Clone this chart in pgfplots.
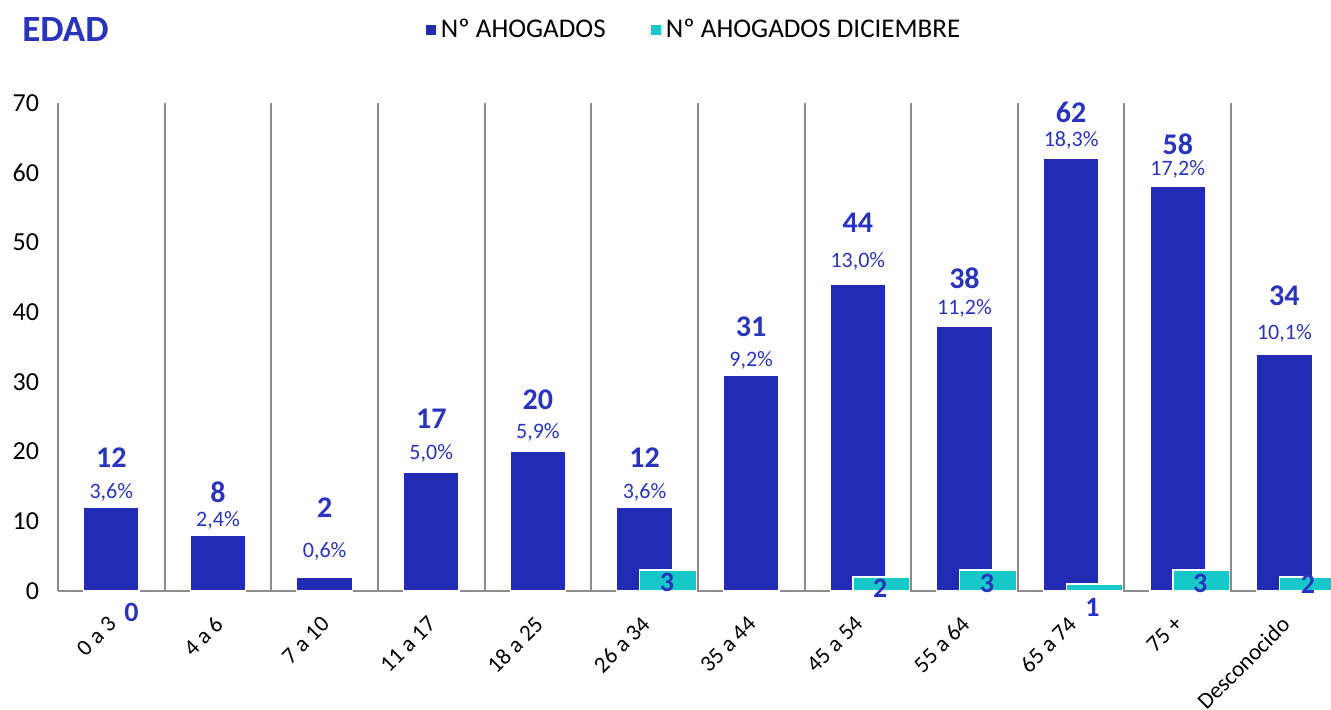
\documentclass[border=0pt]{standalone}
\usepackage{pgfplots}
\pgfplotsset{compat=1.18}
\usepackage{pgfplotstable}
\usepackage{fontspec}
\setmainfont{Carlito}
\definecolor{barblue}{RGB}{33,43,180}
\definecolor{barcyan}{RGB}{22,200,200}
\definecolor{lblblue}{RGB}{40,52,190}
\definecolor{gridgray}{RGB}{140,140,140}

\pgfplotstableread{
x y pct py cy
0 12 3.6 14.2 19.1
1 8 2.4 10.2 14.1
2 2 0.6 5.7 11.9
3 17 5.0 19.8 24.7
4 20 5.9 22.7 27.4
5 12 3.6 14.2 19.1
6 31 9.2 33.1 37.9
7 44 13.0 47.3 52.8
8 38 11.2 40.5 44.8
9 62 18.3 64.6 68.6
10 58 17.2 60.5 64.1
11 34 10.1 36.9 42.3
}\main

\pgfplotstableread{
x y lx ly
0 0 0.19 -3.0
5 3 5.21 1.3
7 2 7.21 0.4
8 3 8.21 1.15
9 1 9.2 -2.3
10 3 10.21 1.15
11 2 11.22 0.9
}\dic

\begin{document}
\begin{tikzpicture}
\useasboundingbox (0,0) rectangle (665.5pt,354.5pt);
\begin{axis}[
  at={(29pt,59pt)}, anchor=south west,
  scale only axis, width=636.5pt, height=244pt,
  xmin=-0.5, xmax=11.437, ymin=0, ymax=70,
  ytick={0,10,...,70},
  xtick={0,...,11},
  xticklabels={0 a 3, 4 a 6, 7 a 10, 11 a 17, 18 a 25, 26 a 34, 35 a 44, 45 a 54, 55 a 64, 65 a 74, 75 +, Desconocido},
  x tick label style={rotate=45, anchor=north east, inner sep=0pt, font=\fontsize{11.5}{13}\selectfont, yshift=-6.7pt, xshift=-9.9pt},
  y tick label style={font=\fontsize{13}{15}\selectfont, xshift=-6pt},
  /pgf/number format/assume math mode=true,
  major tick length=0, minor tick length=0,
  minor xtick={0.5,1.5,...,10.5},
  xminorgrids, minor grid style={gridgray, line width=1pt},
  axis x line*=bottom, axis y line*=left,
  axis line style={gridgray, line width=1pt, -},
  clip=false,
  legend style={at={(0.5,1.15)}, anchor=center, draw=none, fill=none,
    legend columns=2, font=\fontsize{13.5}{15}\selectfont,
    /tikz/every even column/.append style={column sep=20pt}},
  legend image code/.code={\fill[#1] (0pt,-2.75pt) rectangle (5.5pt,2.75pt);},
]
\addplot[ybar, bar width=0.52, bar shift=0, fill=barblue, draw=white, line width=0.6pt] table[x=x,y=y]{\main};
\addplot[ybar, bar width=0.53, bar shift=0.22, fill=barcyan, draw=white, line width=0.6pt, skip coords between index={0}{1}] table[x=x,y=y]{\dic};
\legend{Nº AHOGADOS, Nº AHOGADOS DICIEMBRE}
\addplot[draw=none, forget plot, point meta=explicit,
  nodes near coords={\pgfmathprintnumber[fixed,fixed zerofill,precision=1,use comma]{\pgfplotspointmeta}\%},
  nodes near coords style={anchor=center, inner sep=0pt, text=lblblue, font=\fontsize{11}{13}\selectfont}]
  table[x=x,y=py,meta=pct]{\main};
\addplot[draw=none, forget plot, point meta=explicit,
  nodes near coords={\pgfmathprintnumber{\pgfplotspointmeta}},
  nodes near coords style={anchor=center, inner sep=0pt, text=lblblue, font=\bfseries\fontsize{15}{17}\selectfont}]
  table[x=x,y=cy,meta=y]{\main};
\addplot[draw=none, forget plot, point meta=explicit,
  nodes near coords={\pgfmathprintnumber{\pgfplotspointmeta}},
  nodes near coords style={anchor=center, inner sep=0pt, text=lblblue, font=\bfseries\fontsize{14}{16}\selectfont}]
  table[x=lx,y=ly,meta=y]{\dic};
\end{axis}
\node[anchor=west, inner sep=0pt, text=lblblue, font=\bfseries\fontsize{18.5}{21}\selectfont] at (11pt,339.5pt) {EDAD};
\end{tikzpicture}
\end{document}
